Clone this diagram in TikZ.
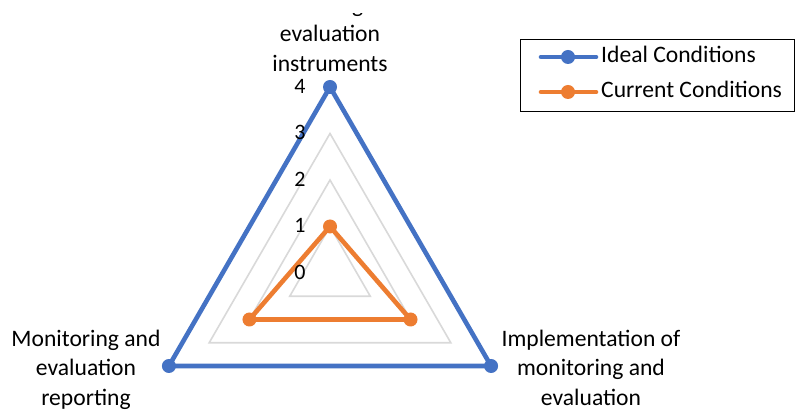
\documentclass[tikz,border=0pt]{standalone}
\usepackage{fontspec}
\setmainfont{Carlito}
\definecolor{idealblue}{HTML}{4472C4}
\definecolor{currorange}{HTML}{ED7D31}
\definecolor{gridgray}{HTML}{D9D9D9}
\tikzset{
  gridline/.style={draw=gridgray, line width=1.6pt},
  series/.style={line width=4.6pt, line join=round, line cap=round},
  dot/.style={circle, fill=#1, inner sep=0pt, minimum size=14pt},
  axislabel/.style={align=center, font=\fontsize{23.6}{29.5}\selectfont, inner sep=0pt},
  ticklabel/.style={font=\fontsize{22}{26}\selectfont, inner sep=0pt},
  legendtext/.style={anchor=base west, font=\fontsize{23.6}{30}\selectfont, inner sep=0pt},
}
\begin{document}
\begin{tikzpicture}[x=1pt, y=-1pt]
\useasboundingbox (0,0) rectangle (795,411);
\fill[white] (0,0) rectangle (795,411);

% radar grid: rings for the values 1 to 3 around the centre
\begin{scope}[shift={(330,273)}]
  \coordinate (O) at (0,0);
  \foreach \v in {1,2,3}
    \draw[gridline] (-90:\v*46.5) -- (30:\v*46.5) -- (150:\v*46.5) -- cycle;

  % ideal conditions: 4 on every axis
  \coordinate (i1) at (-90:4*46.5);
  \coordinate (i2) at (30:4*46.5);
  \coordinate (i3) at (150:4*46.5);
  \draw[series, idealblue] (i1) -- (i2) -- (i3) -- cycle;
  \foreach \p in {i1,i2,i3}
    \node[dot=idealblue] at (\p) {};

  % current conditions: 1, 2, 2
  \coordinate (c1) at (-90:1*46.5);
  \coordinate (c2) at (30:2*46.5);
  \coordinate (c3) at (150:2*46.5);
  \draw[series, currorange] (c1) -- (c2) -- (c3) -- cycle;
  \foreach \p in {c1,c2,c3}
    \node[dot=currorange] at (\p) {};

  % value scale along the vertical axis, drawn on top of the series
  \foreach \v in {0,...,4}
    \node[ticklabel] (tick\v) at ([xshift=-30pt, yshift=1pt]-90:\v*46.5) {\v};
\end{scope}

% axis titles (anchored at the baseline of their last line);
% the top title is cut by the chart area just below its first baseline
\begin{scope}
  \clip (0,14) rectangle (795,411);
  \node[axislabel, anchor=base] (topA) at (330,71.5)
    {Monitoring and\\evaluation\\instruments};
\end{scope}
\node[axislabel, anchor=base] (leftA) at (86,405.5)
  {Monitoring and\\evaluation\\reporting};
\node[axislabel, anchor=base] (rightA) at (591,405.5)
  {Implementation of\\monitoring and\\evaluation};

% legend
\node[draw=black, line width=1pt, minimum width=274pt, minimum height=71.7pt,
      inner sep=0pt, anchor=north west] (legend) at (520,39) {};
\coordinate (l1a) at (541,57);
\coordinate (l1b) at (596,57);
\coordinate (l2a) at (541,92);
\coordinate (l2b) at (596,92);
\draw[series, idealblue] (l1a) -- (l1b);
\node[dot=idealblue] (l1m) at (568,57) {};
\draw[series, currorange] (l2a) -- (l2b);
\node[dot=currorange] (l2m) at (568,92) {};
\node[legendtext] (l1t) at (601,63) {Ideal Conditions};
\node[legendtext] (l2t) at (601,98) {Current Conditions};
\end{tikzpicture}
\end{document}
